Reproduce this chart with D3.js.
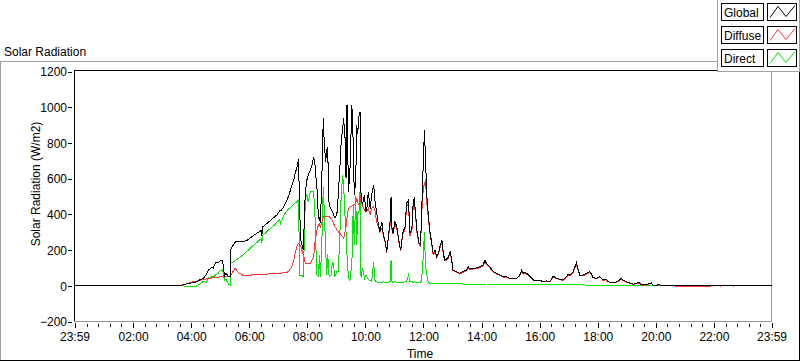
<!DOCTYPE html>
<html><head><meta charset="utf-8">
<script src="https://cdn.jsdelivr.net/npm/d3@7/dist/d3.min.js"></script>
<style>
body{margin:0;background:#fff;}
svg{display:block;font-family:"Liberation Sans",Arial,sans-serif;}
</style>
</head><body>
<svg id="chart" width="800" height="361"></svg>
<script>
// ---- data ----
const times = [
"00:00","03:40","03:42","03:50","04:02","04:10","04:19","04:25","04:31","04:36",
"04:39","04:43","04:46","04:50","04:56","05:00","05:05","05:09","05:12","05:17",
"05:21","05:22","05:25","05:31","05:38","05:48","05:56","06:08","06:19","06:25",
"06:26","06:28","06:39","06:52","06:57","07:03","07:05","07:11","07:18","07:21",
"07:28","07:32","07:35","07:39","07:42","07:44","07:47","07:52","07:54","07:56",
"07:59","08:02","08:06","08:09","08:13","08:16","08:18","08:20","08:23","08:25",
"08:27","08:30","08:33","08:35","08:38","08:40","08:42","08:45","08:49","08:52",
"08:54","08:57","09:01","09:04","09:07","09:10","09:13","09:15","09:17","09:18",
"09:20","09:22","09:25","09:28","09:32","09:35","09:37","09:40","09:42","09:44",
"09:47","09:49","09:51","09:54","09:56","09:58","10:01","10:03","10:06","10:10",
"10:13","10:17","10:20","10:23","10:27","10:30","10:34","10:37","10:41","10:44",
"10:47","10:51","10:53","10:55","10:57","11:01","11:05","11:10","11:13","11:17",
"11:22","11:25","11:29","11:32","11:36","11:39","11:41","11:45","11:47","11:51",
"11:54","11:56","12:00","12:02","12:04","12:07","12:10","12:13","12:17","12:20",
"12:24","12:27","12:31","12:34","12:38","12:41","12:44","12:48","12:51","12:55",
"12:58","13:01","13:08","13:15","13:22","13:29","13:32","13:36","13:43","13:50",
"13:57","14:03","14:07","14:10","14:17","14:24","14:31","14:38","14:45","14:52",
"14:58","15:05","15:12","15:19","15:23","15:26","15:29","15:33","15:36","15:40",
"15:47","15:54","16:00","16:07","16:14","16:21","16:28","16:31","16:35","16:42",
"16:48","16:55","16:59","17:02","17:09","17:13","17:16","17:19","17:23","17:30",
"17:37","17:44","17:47","17:50","17:57","18:04","18:08","18:11","18:18","18:21",
"18:25","18:32","18:39","18:45","18:49","18:52","18:59","19:06","19:13","19:20",
"19:25","19:30","19:40","19:47","19:51","19:54","20:01","20:06","20:11","20:40",
"20:42","20:50","20:52","20:54","21:10","21:12","21:14","21:35","21:37","21:40",
"21:52","21:54","22:13","22:14","22:15","22:40","22:41","22:42","23:59"
];
const globalRad = [
0,0,8,10,17,20,35,40,62,88,
95,105,100,128,130,139,140,55,72,52,
50,205,220,245,247,247,255,280,300,310,
280,330,355,385,396,420,420,440,480,500,
560,592,630,667,708,420,247,200,400,527,
592,620,648,667,723,676,600,546,378,380,
350,602,938,800,695,760,770,452,430,415,
400,380,398,508,650,807,880,938,863,826,
602,1012,527,639,1012,788,508,583,900,850,
956,975,508,452,480,508,415,433,527,433,
508,564,471,415,340,303,359,284,247,191,
266,359,499,320,296,359,330,238,200,296,
330,462,480,294,320,480,490,359,296,238,
230,400,723,872,723,499,400,312,238,182,
200,163,182,219,256,182,144,150,160,191,
150,88,79,70,80,88,107,95,98,100,
107,116,144,125,107,80,70,60,51,51,
42,42,42,60,88,70,76,70,63,51,
32,32,32,23,28,23,55,48,42,37,
32,51,65,60,79,107,130,95,60,60,
70,79,65,48,42,51,42,32,36,25,
18,18,22,32,42,32,23,16,9,14,
18,5,5,14,16,5,0,9,0,0,
0,0,0,0,0,0,0,0,0,0,
0,0,0,0,0,0,0,0,0
];
const diffuseRad = [
0,0,4,10,22,25,32,35,38,40,
42,44,45,46,48,50,52,52,50,50,
52,60,75,98,72,58,56,62,66,66,
66,66,66,67,68,70,70,73,76,79,
107,140,182,228,238,232,215,172,150,126,
126,122,126,140,163,247,280,312,340,345,
331,355,387,387,387,387,390,387,375,365,
350,331,315,303,295,284,276,266,280,303,
330,378,434,440,445,450,455,462,490,470,
452,508,470,452,434,425,415,420,434,396,
434,445,415,359,330,300,322,280,240,185,
260,340,470,310,290,340,320,230,195,285,
320,440,460,280,305,460,470,345,285,230,
222,390,560,560,600,460,380,300,230,175,
190,158,175,210,245,175,140,145,152,185,
145,85,75,66,76,84,102,90,94,95,
102,110,135,118,100,76,66,57,48,48,
40,40,40,57,82,66,72,66,60,48,
30,30,30,21,26,21,50,44,40,35,
30,48,60,56,74,100,118,90,56,56,
66,74,60,45,40,48,40,30,34,24,
17,17,20,30,38,30,21,14,8,12,
15,4,4,12,14,4,0,7,0,0,
-5,-5,0,-5,-5,0,-6,-6,0,-5,
-5,0,0,-5,0,0,-5,0,0
];
const directRad = [
0,0,0,-3,-4,-3,12,25,18,45,
40,55,50,60,70,85,90,30,35,10,
5,130,128,140,155,175,195,225,250,265,
240,282,310,340,355,370,350,395,420,430,
445,455,465,472,480,60,60,51,300,490,
510,470,527,527,527,378,200,60,51,170,
51,240,555,420,200,60,180,51,60,135,
116,51,80,80,266,508,620,560,450,380,
300,172,40,30,120,460,228,500,228,400,
420,530,42,100,80,40,60,50,35,30,
25,135,25,22,20,18,20,22,20,18,
20,23,144,23,20,22,20,18,18,20,
22,25,60,25,22,20,22,18,18,18,
20,30,182,303,120,60,20,15,14,14,
14,14,14,14,14,12,12,12,12,12,
12,12,12,12,10,10,10,10,10,10,
10,10,10,10,9,9,9,9,8,8,
8,8,8,8,9,8,8,8,8,7,
7,7,7,6,6,6,6,6,6,6,
5,5,5,5,5,5,5,5,5,5,
4,4,4,4,4,3,3,3,3,3,
3,2,2,2,2,2,2,2,1,1,
1,1,1,0,0,0,0,0,0,0,
0,0,0,0,0,0,0,0,0,0,
0,0,0,0,0,0,0,0,0
];
const seriesNames = ["Global","Diffuse","Direct"];
const seriesColors = ["#000000","#ff3535","#00e600"];
const yTicks = [-200,0,200,400,600,800,1000,1200];
const xTickLabels = ["23:59","02:00","04:00","06:00","08:00","10:00","12:00","14:00","16:00","18:00","20:00","22:00","23:59"];
const chartTitle = "Solar Radiation";
const yLabel = "Solar Radiation (W/m2)";
const xLabel = "Time";

// ---- drawing ----
const svg = d3.select("#chart");
const parseT = s => { const p = s.split(":").map(Number); return p[0]*60 + p[1]; };
const tMin = times.map(parseT);
const xTickMin = xTickLabels.map((s,i) => i === 0 ? parseT(s) - 1440 : parseT(s));
const minorTicks = d3.range(24, 1440, 24).filter(m => m % 120 !== 0);

const x = d3.scaleLinear().domain([xTickMin[0], xTickMin[xTickMin.length-1]]).range([74.5, 771.5]);
const y = d3.scaleLinear().domain([-200, 1200]).range([321.5, 71.5]);

// outer panel borders
svg.append("line").attr("x1",0).attr("x2",717).attr("y1",61.5).attr("y2",61.5).attr("stroke","#a0a0a0");
svg.append("line").attr("x1",0.5).attr("x2",0.5).attr("y1",61).attr("y2",361).attr("stroke","#a0a0a0");
svg.append("line").attr("x1",0).attr("x2",800).attr("y1",360.5).attr("y2",360.5).attr("stroke","#000");
svg.append("line").attr("x1",799.5).attr("x2",799.5).attr("y1",72).attr("y2",361).attr("stroke","#000");

// title
svg.append("text").attr("x",4).attr("y",55.5).attr("font-size",12).attr("fill","#000").text(chartTitle);

// plot frame
svg.append("line").attr("x1",74).attr("x2",772).attr("y1",70.5).attr("y2",70.5).attr("stroke","#000");
svg.append("line").attr("x1",74.5).attr("x2",74.5).attr("y1",70).attr("y2",322).attr("stroke","#000");
svg.append("line").attr("x1",74).attr("x2",772).attr("y1",321.5).attr("y2",321.5).attr("stroke","#9a9a9a");
svg.append("line").attr("x1",771.5).attr("x2",771.5).attr("y1",71).attr("y2",322).attr("stroke","#9a9a9a");

// y axis
const yAxis = svg.append("g").attr("transform","translate(72,0)")
  .call(d3.axisLeft(y).tickValues(yTicks).tickSize(4).tickPadding(1).tickFormat(d3.format("d")));
yAxis.select(".domain").remove();
yAxis.selectAll("line").attr("stroke","#000").attr("shape-rendering","crispEdges");
yAxis.selectAll("text").attr("font-size",12).attr("font-family","Liberation Sans, Arial, sans-serif").attr("fill","#000").attr("dy","0.36em");

// x axis major
const xAxis = svg.append("g").attr("transform","translate(0,323)")
  .call(d3.axisBottom(x).tickValues(xTickMin).tickSize(5).tickPadding(4).tickFormat((d,i) => xTickLabels[i]));
xAxis.select(".domain").remove();
xAxis.selectAll("line").attr("stroke","#000").attr("shape-rendering","crispEdges");
xAxis.selectAll("text").attr("font-size",12).attr("font-family","Liberation Sans, Arial, sans-serif").attr("fill","#000");
// x axis minor
const xMinor = svg.append("g").attr("transform","translate(0,324)")
  .call(d3.axisBottom(x).tickValues(minorTicks).tickSize(3).tickFormat(""));
xMinor.select(".domain").remove();
xMinor.selectAll("line").attr("stroke","#000").attr("shape-rendering","crispEdges");

// axis labels
svg.append("text").attr("transform","translate(40,184) rotate(-90)").attr("text-anchor","middle")
  .attr("font-size",12).attr("fill","#000").text(yLabel);
svg.append("text").attr("x",420).attr("y",358).attr("text-anchor","middle")
  .attr("font-size",12).attr("fill","#000").text(xLabel);

// series
const seriesValues = [globalRad, diffuseRad, directRad];
const line = d3.line().x(d => x(d[0])).y(d => y(d[1]));
[2,1,0].forEach(k => {
  const pts = tMin.map((t,i) => [t, seriesValues[k][i]]);
  svg.append("path").datum(pts).attr("d", line).attr("fill","none")
    .attr("stroke", seriesColors[k]).attr("stroke-width",1).attr("shape-rendering","crispEdges");
});

// legend
const lg = svg.append("g");
lg.append("rect").attr("x",717).attr("y",0).attr("width",83).attr("height",72).attr("fill","#fff");
lg.append("line").attr("x1",717.5).attr("x2",717.5).attr("y1",0).attr("y2",72).attr("stroke","#a0a0a0");
lg.append("line").attr("x1",717).attr("x2",800).attr("y1",71.5).attr("y2",71.5).attr("stroke","#a0a0a0");
lg.append("line").attr("x1",799.5).attr("x2",799.5).attr("y1",0).attr("y2",72).attr("stroke","#a0a0a0");
const rowY = [3.5, 26.5, 49.5];
const swLine = d3.line();
seriesNames.forEach((name,i) => {
  const yy = rowY[i];
  lg.append("rect").attr("x",721.5).attr("y",yy).attr("width",42).attr("height",17)
    .attr("fill","#fff").attr("stroke","#000");
  lg.append("text").attr("x",724).attr("y",yy+13.5).attr("font-size",12).attr("fill","#000").text(name);
  lg.append("rect").attr("x",767.5).attr("y",yy).attr("width",29).attr("height",17)
    .attr("fill","#fff").attr("stroke","#000");
  lg.append("path").attr("d", swLine([[770,yy+14],[778,yy+3],[786,yy+13],[795,yy+2]]))
    .attr("fill","none").attr("stroke",seriesColors[i]).attr("stroke-width",1);
});
</script>
</body></html>
